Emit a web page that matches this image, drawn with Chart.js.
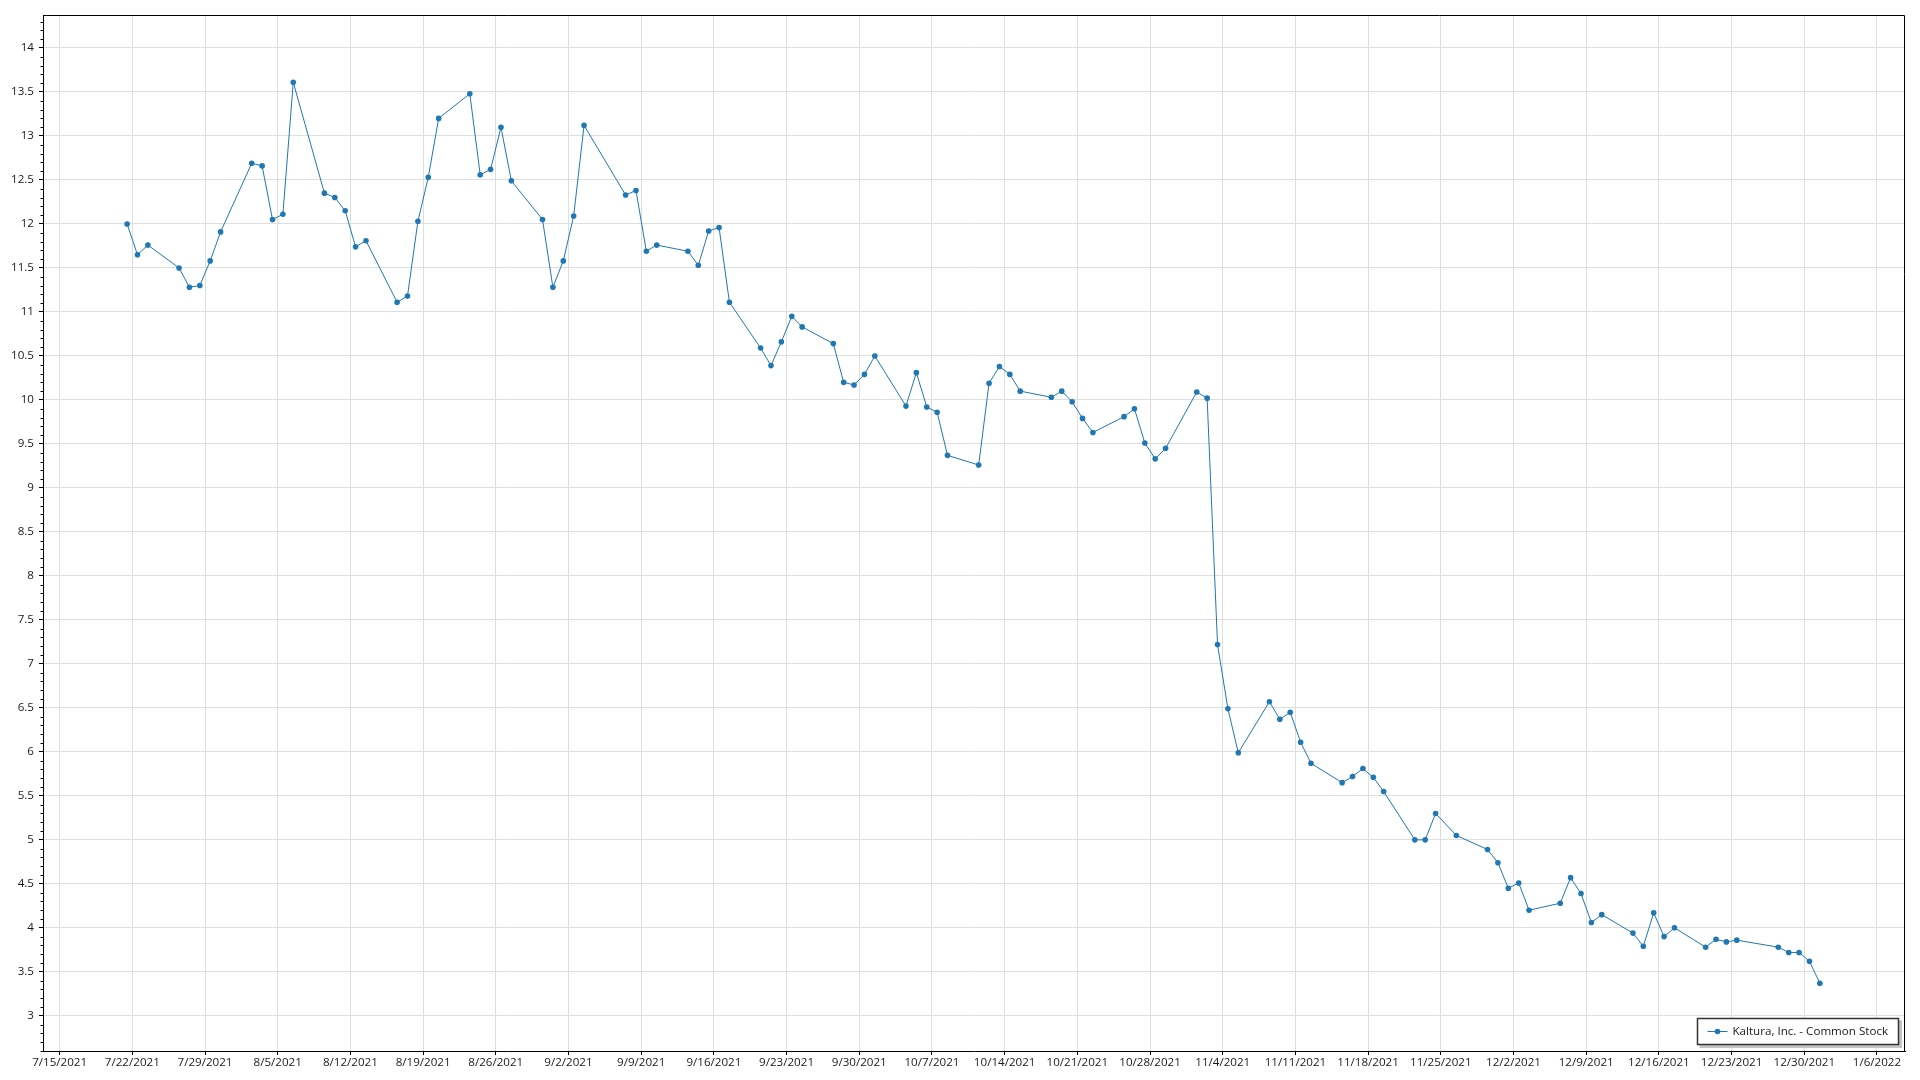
<!DOCTYPE html>
<html>
<head>
<meta charset="utf-8">
<script src="https://cdn.jsdelivr.net/npm/chart.js@4.4.0/dist/chart.umd.min.js"></script>
<style>
    html, body { margin: 0; padding: 0; background: #fff; }
    #wrap { width: 1920px; height: 1080px; }
</style>
</head>
<body>
<div id="wrap"><canvas id="myChart" width="1920" height="1080"></canvas></div>
<script>
// 系列名
const seriesLabel = 'Kaltura, Inc. - Common Stock';

// 取引日
const tradeDates = [
    '7/21/2021', '7/22/2021', '7/23/2021', '7/26/2021', '7/27/2021', '7/28/2021', '7/29/2021', '7/30/2021',
    '8/2/2021', '8/3/2021', '8/4/2021', '8/5/2021', '8/6/2021', '8/9/2021', '8/10/2021', '8/11/2021',
    '8/12/2021', '8/13/2021', '8/16/2021', '8/17/2021', '8/18/2021', '8/19/2021', '8/20/2021', '8/23/2021',
    '8/24/2021', '8/25/2021', '8/26/2021', '8/27/2021', '8/30/2021', '8/31/2021',
    '9/1/2021', '9/2/2021', '9/3/2021', '9/7/2021', '9/8/2021', '9/9/2021', '9/10/2021', '9/13/2021',
    '9/14/2021', '9/15/2021', '9/16/2021', '9/17/2021', '9/20/2021', '9/21/2021', '9/22/2021', '9/23/2021',
    '9/24/2021', '9/27/2021', '9/28/2021', '9/29/2021', '9/30/2021',
    '10/1/2021', '10/4/2021', '10/5/2021', '10/6/2021', '10/7/2021', '10/8/2021', '10/11/2021', '10/12/2021',
    '10/13/2021', '10/14/2021', '10/15/2021', '10/18/2021', '10/19/2021', '10/20/2021', '10/21/2021',
    '10/22/2021', '10/25/2021', '10/26/2021', '10/27/2021', '10/28/2021', '10/29/2021',
    '11/1/2021', '11/2/2021', '11/3/2021', '11/4/2021', '11/5/2021', '11/8/2021', '11/9/2021', '11/10/2021',
    '11/11/2021', '11/12/2021', '11/15/2021', '11/16/2021', '11/17/2021', '11/18/2021', '11/19/2021',
    '11/22/2021', '11/23/2021', '11/24/2021', '11/26/2021', '11/29/2021', '11/30/2021',
    '12/1/2021', '12/2/2021', '12/3/2021', '12/6/2021', '12/7/2021', '12/8/2021', '12/9/2021', '12/10/2021',
    '12/13/2021', '12/14/2021', '12/15/2021', '12/16/2021', '12/17/2021', '12/20/2021', '12/21/2021',
    '12/22/2021', '12/23/2021', '12/27/2021', '12/28/2021', '12/29/2021', '12/30/2021', '12/31/2021'
];

// 終値
const closePrices = [
    12.00, 11.65, 11.76, 11.50, 11.28, 11.30, 11.58, 11.91,
    12.69, 12.66, 12.05, 12.11, 13.61, 12.35, 12.30, 12.15,
    11.74, 11.81, 11.11, 11.18, 12.03, 12.53, 13.20, 13.48,
    12.56, 12.62, 13.10, 12.49, 12.05, 11.28,
    11.58, 12.09, 13.12, 12.33, 12.38, 11.69, 11.76, 11.69,
    11.53, 11.92, 11.96, 11.11, 10.59, 10.39, 10.66, 10.95,
    10.83, 10.64, 10.20, 10.17, 10.29,
    10.50, 9.93, 10.31, 9.92, 9.86, 9.37, 9.26, 10.19,
    10.38, 10.29, 10.10, 10.03, 10.10, 9.98, 9.79,
    9.63, 9.81, 9.90, 9.51, 9.33, 9.45,
    10.09, 10.02, 7.22, 6.49, 5.99, 6.57, 6.37, 6.45,
    6.11, 5.87, 5.65, 5.72, 5.81, 5.71, 5.55,
    5.00, 5.00, 5.30, 5.05, 4.89, 4.74,
    4.45, 4.51, 4.20, 4.28, 4.57, 4.39, 4.06, 4.15,
    3.94, 3.79, 4.17, 3.90, 4.00, 3.78, 3.87,
    3.84, 3.86, 3.78, 3.72, 3.72, 3.62, 3.37
];

// 目盛りラベル
const xTickLabels = [
    '7/15/2021', '7/22/2021', '7/29/2021', '8/5/2021', '8/12/2021', '8/19/2021', '8/26/2021',
    '9/2/2021', '9/9/2021', '9/16/2021', '9/23/2021', '9/30/2021', '10/7/2021', '10/14/2021',
    '10/21/2021', '10/28/2021', '11/4/2021', '11/11/2021', '11/18/2021', '11/25/2021',
    '12/2/2021', '12/9/2021', '12/16/2021', '12/23/2021', '12/30/2021', '1/6/2022'
];
const yTickValues = [3, 3.5, 4, 4.5, 5, 5.5, 6, 6.5, 7, 7.5, 8, 8.5, 9, 9.5, 10, 10.5, 11, 11.5, 12, 12.5, 13, 13.5, 14];

const FONT = '"Open Sans", "Noto Sans", sans-serif';
const FONT_SIZE = 11.6;
const LINE_COLOR = '#1f77b4';
const GRID_COLOR = '#dedede';

// 日付文字列 -> 7/15/2021 からの日数
const ORIGIN = Date.UTC(2021, 6, 15);
function dayNum(s) {
    const [m, d, y] = s.split('/').map(Number);
    return (Date.UTC(y, m - 1, d) - ORIGIN) / 86400000;
}

// 終値は正午にプロット
const points = tradeDates.map((d, i) => ({ x: dayNum(d) + 0.5, y: closePrices[i] }));

// 枠線と y 軸の補助目盛り
const frameAndMinor = {
    id: 'frameAndMinor',
    afterDraw(chart) {
        const { ctx, chartArea } = chart;
        const y = chart.scales.y;
        ctx.save();
        ctx.strokeStyle = '#000';
        ctx.lineWidth = 1;
        ctx.beginPath();
        const l = Math.round(chartArea.left) + 0.5;
        const r = Math.round(chartArea.right) - 0.5;
        const t = Math.round(chartArea.top) + 0.5;
        ctx.moveTo(l, t);
        ctx.lineTo(r, t);
        ctx.lineTo(r, Math.round(chartArea.bottom));
        ctx.stroke();
        ctx.beginPath();
        for (let k = Math.ceil(y.min * 10); k <= Math.floor(y.max * 10); k++) {
            if (k % 5 === 0) continue;
            const py = Math.round(y.getPixelForValue(k / 10)) + 0.5;
            ctx.moveTo(l - 3, py);
            ctx.lineTo(l, py);
        }
        ctx.stroke();
        ctx.restore();
    }
};

// 右下の凡例
const legendBox = {
    id: 'legendBox',
    afterDraw(chart) {
        const { ctx, chartArea } = chart;
        const ds = chart.data.datasets[0];
        ctx.save();
        ctx.font = FONT_SIZE + 'px ' + FONT;
        const tw = ctx.measureText(ds.label).width;
        const w = Math.round(35 + tw + 10);
        const h = 26;
        const x = Math.round(chartArea.right - 7 - w) + 0.5;
        const y = Math.round(chartArea.bottom - 7.5 - h) + 0.5;
        ctx.fillStyle = '#c4c4c4';
        ctx.fillRect(x + 2, y + 2, w + 1.5, h + 1.5);
        ctx.fillStyle = '#fff';
        ctx.fillRect(x, y, w, h);
        ctx.strokeStyle = '#333';
        ctx.lineWidth = 1.5;
        ctx.strokeRect(x, y, w, h);
        const cy = y + h / 2;
        ctx.strokeStyle = LINE_COLOR;
        ctx.lineWidth = 1;
        ctx.beginPath();
        ctx.moveTo(x + 10, cy);
        ctx.lineTo(x + 30, cy);
        ctx.stroke();
        ctx.fillStyle = LINE_COLOR;
        ctx.beginPath();
        ctx.arc(x + 20, cy, 2.8, 0, Math.PI * 2);
        ctx.fill();
        ctx.fillStyle = '#1a1a1a';
        ctx.textBaseline = 'middle';
        ctx.fillText(ds.label, x + 35, cy);
        ctx.restore();
    }
};

const ctx = document.getElementById('myChart').getContext('2d');
const myLineChart = new Chart(ctx, {
    type: 'line',
    data: {
        datasets: [{
            label: seriesLabel,
            data: points,
            borderColor: LINE_COLOR,
            backgroundColor: LINE_COLOR,
            borderWidth: 1,
            tension: 0,
            pointRadius: 2.8,
            pointBorderWidth: 0,
            pointHoverRadius: 2.8
        }]
    },
    options: {
        responsive: false,
        animation: false,
        devicePixelRatio: 1,
        events: [],
        layout: { padding: { top: 15, right: 15, left: 0, bottom: 0 } },
        plugins: {
            legend: { display: false },
            tooltip: { enabled: false }
        },
        scales: {
            x: {
                type: 'linear',
                min: -1.6,
                max: 177.7,
                afterBuildTicks: axis => {
                    axis.ticks = xTickLabels.map(l => ({ value: dayNum(l) }));
                },
                afterFit: axis => { axis.height = 29; },
                ticks: {
                    autoSkip: false,
                    maxRotation: 0,
                    padding: 1,
                    color: '#1a1a1a',
                    font: { family: FONT, size: FONT_SIZE },
                    callback: (v, i) => xTickLabels[i]
                },
                grid: { color: GRID_COLOR, tickColor: '#000', tickLength: 4 },
                border: { color: '#000', width: 1 }
            },
            y: {
                min: 2.6,
                max: 14.375,
                afterBuildTicks: axis => {
                    axis.ticks = yTickValues.map(v => ({ value: v }));
                },
                afterFit: axis => { axis.width = 43; },
                ticks: {
                    padding: 5,
                    color: '#1a1a1a',
                    font: { family: FONT, size: FONT_SIZE },
                    callback: v => String(v)
                },
                grid: { color: GRID_COLOR, tickColor: '#000', tickLength: 4 },
                border: { color: '#000', width: 1 }
            }
        }
    },
    plugins: [frameAndMinor, legendBox]
});
</script>
</body>
</html>
